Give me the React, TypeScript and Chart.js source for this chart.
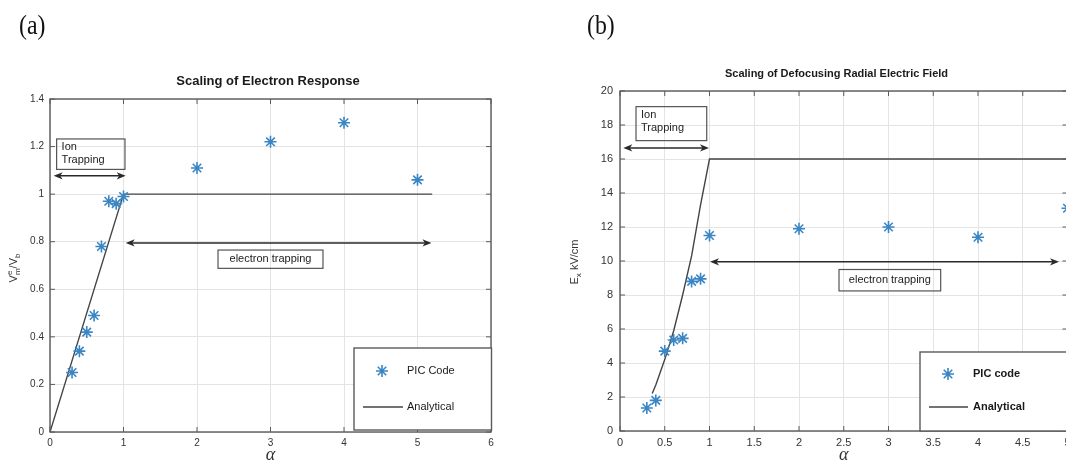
import React, { useEffect, useRef } from 'react';
import { Chart, registerables } from 'chart.js';
Chart.register(...registerables);

// ---------------- Panel (a) data ----------------
const alphaA = [0.3, 0.4, 0.5, 0.6, 0.7, 0.8, 0.9, 1, 2, 3, 4, 5];
const picCodeA = [0.25, 0.34, 0.42, 0.49, 0.78, 0.97, 0.96, 0.99, 1.11, 1.22, 1.3, 1.06];
const analyticalAlphaA = [0, 1, 5.2];
const analyticalA = [0, 1, 1];
const legendLabelsA = ['PIC Code', 'Analytical'];
const titleA = 'Scaling of Electron Response';

// ---------------- Panel (b) data ----------------
const alphaB = [0.3, 0.4, 0.5, 0.6, 0.7, 0.8, 0.9, 1, 2, 3, 4, 5];
const picCodeB = [1.35, 1.8, 4.7, 5.35, 5.45, 8.8, 8.95, 11.5, 11.9, 12.0, 11.4, 13.1];
const analyticalAlphaB = [0.36, 0.4, 0.5, 0.6, 0.7, 0.8, 0.9, 1, 5];
const analyticalB = [2.2, 2.7, 4.2, 5.9, 8.0, 10.3, 13.3, 16, 16];
const legendLabelsB = ['PIC code', 'Analytical'];
const titleB = 'Scaling of Defocusing Radial Electric Field';

const SANS = "'Liberation Sans', Arial, Helvetica, sans-serif";
const SERIF = "'Liberation Serif', 'Times New Roman', serif";
const STAR_COLOR = '#3a86c4';
const LINE_COLOR = '#444444';
const FRAME_COLOR = '#5a5a5a';
const ARROW_COLOR = '#2a2a2a';

type Part = { text: string; size: number; shift?: number; advance?: boolean };

type Spec = {
  left: number; width: number; height: number;
  yAxisWidth: number; xAxisHeight: number; padTop: number; padRight: number;
  xMin: number; xMax: number; xStep: number; yMin: number; yMax: number; yStep: number;
  tickSize: number; yTickPad: number;
  alpha: number[]; pic: number[]; anAlpha: number[]; an: number[]; labels: string[];
  title: { text: string; x: number; y: number; size: number };
  yLabel: { x: number; y: number; parts: Part[] };
  xLabel: { x: number; y: number; text: string };
  legend: { x: number; y: number; w: number; h: number; bold: boolean; starX: number; row1: number; row2: number; lineX1: number; lineX2: number; textX: number };
  arrows: { x1: number; x2: number; y: number }[];
  boxes: { x1: number; x2: number; y1: number; y2: number; lines: string[]; align: 'left' | 'center' }[];
};

function drawStar(ctx: CanvasRenderingContext2D, x: number, y: number, r: number) {
  ctx.beginPath();
  ctx.moveTo(x - r, y); ctx.lineTo(x + r, y);
  ctx.moveTo(x, y - r); ctx.lineTo(x, y + r);
  const d = r * Math.SQRT1_2;
  ctx.moveTo(x - d, y - d); ctx.lineTo(x + d, y + d);
  ctx.moveTo(x - d, y + d); ctx.lineTo(x + d, y - d);
  ctx.stroke();
}

function drawHead(ctx: CanvasRenderingContext2D, x: number, y: number, dir: number) {
  const L = 9, W = 3.6, back = 2.5;
  ctx.beginPath();
  ctx.moveTo(x, y);
  ctx.lineTo(x - dir * L, y - W);
  ctx.lineTo(x - dir * (L - back), y);
  ctx.lineTo(x - dir * L, y + W);
  ctx.closePath();
  ctx.fill();
}

const tickFmt = (v: any) => String(Math.round(Number(v) * 1000) / 1000);

function makeDecor(spec: Spec) {
  return {
    id: 'decor',
    afterDatasetsDraw(chart: any) {
      const ctx: CanvasRenderingContext2D = chart.ctx;
      const { left, right, top, bottom } = chart.chartArea;
      const xs = chart.scales.x, ys = chart.scales.y;
      ctx.save();
      ctx.strokeStyle = FRAME_COLOR;
      ctx.lineWidth = 1.4;
      ctx.strokeRect(left, top, right - left, bottom - top);
      ctx.lineWidth = 1;
      ctx.beginPath();
      xs.ticks.forEach((t: any) => {
        const p = xs.getPixelForValue(t.value);
        ctx.moveTo(p, bottom); ctx.lineTo(p, bottom - 5);
        ctx.moveTo(p, top); ctx.lineTo(p, top + 5);
      });
      ys.ticks.forEach((t: any) => {
        const p = ys.getPixelForValue(t.value);
        ctx.moveTo(left, p); ctx.lineTo(left + 5, p);
        ctx.moveTo(right, p); ctx.lineTo(right - 5, p);
      });
      ctx.stroke();
      ctx.restore();
    },
    afterDraw(chart: any) {
      const ctx: CanvasRenderingContext2D = chart.ctx;
      const xs = chart.scales.x, ys = chart.scales.y;
      ctx.save();
      // title
      ctx.fillStyle = '#1a1a1a';
      ctx.font = `bold ${spec.title.size}px ${SANS}`;
      ctx.textAlign = 'center';
      ctx.textBaseline = 'middle';
      ctx.fillText(spec.title.text, spec.title.x, spec.title.y);

      // x label
      ctx.font = `italic 18px ${SERIF}`;
      ctx.fillStyle = '#333';
      ctx.fillText(spec.xLabel.text, spec.xLabel.x, spec.xLabel.y);

      // y label (rotated, with sub/superscripts)
      ctx.save();
      ctx.translate(spec.yLabel.x, spec.yLabel.y);
      ctx.rotate(-Math.PI / 2);
      ctx.textAlign = 'left';
      ctx.textBaseline = 'alphabetic';
      let total = 0; let pend = 0;
      spec.yLabel.parts.forEach((p) => {
        ctx.font = `${p.size}px ${SANS}`;
        const w = ctx.measureText(p.text).width;
        if (p.advance === false) pend = w; else { total += Math.max(w, pend); pend = 0; }
      });
      let cur = -total / 2; pend = 0;
      spec.yLabel.parts.forEach((p) => {
        ctx.font = `${p.size}px ${SANS}`;
        const w = ctx.measureText(p.text).width;
        ctx.fillText(p.text, cur, 4 + (p.shift || 0));
        if (p.advance === false) pend = w; else { cur += Math.max(w, pend); pend = 0; }
      });
      ctx.restore();

      // arrows
      ctx.strokeStyle = ARROW_COLOR;
      ctx.fillStyle = ARROW_COLOR;
      ctx.lineWidth = 1.5;
      spec.arrows.forEach((a) => {
        const x1 = xs.getPixelForValue(a.x1), x2 = xs.getPixelForValue(a.x2), y = ys.getPixelForValue(a.y);
        ctx.beginPath();
        ctx.moveTo(x1 + 4, y); ctx.lineTo(x2 - 4, y);
        ctx.stroke();
        drawHead(ctx, x1, y, -1);
        drawHead(ctx, x2, y, 1);
      });

      // text boxes
      spec.boxes.forEach((b) => {
        const x1 = xs.getPixelForValue(b.x1), x2 = xs.getPixelForValue(b.x2);
        const y1 = ys.getPixelForValue(b.y1), y2 = ys.getPixelForValue(b.y2);
        ctx.strokeStyle = '#555';
        ctx.lineWidth = 1.2;
        ctx.strokeRect(x1, y1, x2 - x1, y2 - y1);
        ctx.fillStyle = '#222';
        ctx.font = `11px ${SANS}`;
        ctx.textBaseline = 'middle';
        if (b.align === 'center') {
          ctx.textAlign = 'center';
          ctx.fillText(b.lines[0], (x1 + x2) / 2, (y1 + y2) / 2);
        } else {
          ctx.textAlign = 'left';
          b.lines.forEach((l, i) => ctx.fillText(l, x1 + 5, y1 + 8 + i * 13.5));
        }
      });

      // legend
      const L = spec.legend;
      ctx.fillStyle = '#fff';
      ctx.fillRect(L.x, L.y, L.w, L.h);
      ctx.strokeStyle = FRAME_COLOR;
      ctx.lineWidth = 1.4;
      ctx.strokeRect(L.x, L.y, L.w, L.h);
      const ds = chart.data.datasets;
      ctx.strokeStyle = ds[0].borderColor;
      ctx.lineWidth = 1.6;
      drawStar(ctx, L.starX, L.row1, 6);
      ctx.strokeStyle = ds[1].borderColor;
      ctx.lineWidth = 1.4;
      ctx.beginPath(); ctx.moveTo(L.lineX1, L.row2); ctx.lineTo(L.lineX2, L.row2); ctx.stroke();
      ctx.fillStyle = '#1a1a1a';
      ctx.font = `${L.bold ? 'bold ' : ''}11px ${SANS}`;
      ctx.textAlign = 'left';
      ctx.textBaseline = 'middle';
      ctx.fillText(ds[0].label, L.textX, L.row1);
      ctx.fillText(ds[1].label, L.textX, L.row2);
      ctx.restore();
    },
  };
}

function makeConfig(spec: Spec): any {
  return {
    type: 'scatter',
    data: {
      datasets: [
        {
          label: spec.labels[0],
          data: spec.alpha.map((a, i) => ({ x: a, y: spec.pic[i] })),
          pointStyle: 'star',
          pointRadius: 6,
          pointHoverRadius: 6,
          borderColor: STAR_COLOR,
          backgroundColor: STAR_COLOR,
          pointBorderWidth: 1.6,
          borderWidth: 1.6,
          showLine: false,
          clip: false,
        },
        {
          label: spec.labels[1],
          data: spec.anAlpha.map((a, i) => ({ x: a, y: spec.an[i] })),
          showLine: true,
          borderColor: LINE_COLOR,
          backgroundColor: LINE_COLOR,
          borderWidth: 1.4,
          pointRadius: 0,
          tension: 0,
          fill: false,
        },
      ],
    },
    options: {
      responsive: false,
      animation: false,
      devicePixelRatio: 1,
      layout: { padding: { left: 0, top: spec.padTop, right: spec.padRight, bottom: 0 } },
      plugins: { legend: { display: false }, title: { display: false }, tooltip: { enabled: false } },
      scales: {
        x: {
          type: 'linear', min: spec.xMin, max: spec.xMax,
          afterFit: (s: any) => { s.height = spec.xAxisHeight; },
          border: { display: false },
          grid: { color: '#e4e4e4', lineWidth: 1, drawTicks: false },
          ticks: { stepSize: spec.xStep, autoSkip: false, maxRotation: 0, padding: 5, color: '#333', font: { family: SANS, size: spec.tickSize }, callback: tickFmt },
        },
        y: {
          type: 'linear', min: spec.yMin, max: spec.yMax,
          afterFit: (s: any) => { s.width = spec.yAxisWidth; },
          border: { display: false },
          grid: { color: '#e4e4e4', lineWidth: 1, drawTicks: false },
          ticks: { stepSize: spec.yStep, autoSkip: false, padding: spec.yTickPad, color: '#333', font: { family: SANS, size: spec.tickSize }, callback: tickFmt },
        },
      },
    },
    plugins: [makeDecor(spec)],
  };
}

const specA: Spec = {
  left: 0, width: 545, height: 469,
  yAxisWidth: 50, xAxisHeight: 37, padTop: 99, padRight: 54,
  xMin: 0, xMax: 6, xStep: 1, yMin: 0, yMax: 1.4, yStep: 0.2,
  tickSize: 10, yTickPad: 6,
  alpha: alphaA, pic: picCodeA, anAlpha: analyticalAlphaA, an: analyticalA, labels: legendLabelsA,
  title: { text: titleA, x: 268, y: 81, size: 13 },
  yLabel: {
    x: 13, y: 268,
    parts: [
      { text: 'V', size: 11 },
      { text: 'e', size: 8, shift: -5, advance: false },
      { text: 'm', size: 8, shift: 3 },
      { text: '/V', size: 11 },
      { text: 'b', size: 8, shift: 3 },
    ],
  },
  xLabel: { x: 270.5, y: 455, text: '\u03b1' },
  legend: { x: 354, y: 348, w: 137.5, h: 82, bold: false, starX: 382, row1: 371, row2: 407, lineX1: 363, lineX2: 403, textX: 407 },
  arrows: [
    { x1: 0.05, x2: 1.03, y: 1.077 },
    { x1: 1.03, x2: 5.19, y: 0.795 },
  ],
  boxes: [
    { x1: 0.09, x2: 1.02, y1: 1.232, y2: 1.104, lines: ['Ion', 'Trapping'], align: 'left' },
    { x1: 2.286, x2: 3.714, y1: 0.765, y2: 0.688, lines: ['electron trapping'], align: 'center' },
  ],
};

const specB: Spec = {
  left: 560, width: 530, height: 469,
  yAxisWidth: 60, xAxisHeight: 38, padTop: 91, padRight: 22.5,
  xMin: 0, xMax: 5, xStep: 0.5, yMin: 0, yMax: 20, yStep: 2,
  tickSize: 11, yTickPad: 7,
  alpha: alphaB, pic: picCodeB, anAlpha: analyticalAlphaB, an: analyticalB, labels: legendLabelsB,
  title: { text: titleB, x: 276.5, y: 74, size: 11 },
  yLabel: {
    x: 14, y: 262,
    parts: [
      { text: 'E', size: 11 },
      { text: 'x', size: 8, shift: 3 },
      { text: ' kV/cm', size: 11 },
    ],
  },
  xLabel: { x: 283.75, y: 455, text: '\u03b1' },
  legend: { x: 360, y: 352, w: 170, h: 79, bold: true, starX: 388, row1: 374, row2: 407, lineX1: 369, lineX2: 408, textX: 413 },
  arrows: [
    { x1: 0.037, x2: 0.994, y: 16.65 },
    { x1: 1.006, x2: 4.905, y: 9.95 },
  ],
  boxes: [
    { x1: 0.179, x2: 0.969, y1: 19.08, y2: 17.08, lines: ['Ion', 'Trapping'], align: 'left' },
    { x1: 2.447, x2: 3.583, y1: 9.5, y2: 8.24, lines: ['electron trapping'], align: 'center' },
  ],
};

function Panel({ spec }: { spec: Spec }) {
  const ref = useRef<HTMLCanvasElement>(null);
  useEffect(() => {
    const chart = new Chart(ref.current as HTMLCanvasElement, makeConfig(spec));
    return () => chart.destroy();
  }, [spec]);
  return (
    <canvas
      ref={ref}
      width={spec.width}
      height={spec.height}
      style={{ position: 'absolute', left: spec.left, top: 0, width: spec.width, height: spec.height }}
    />
  );
}

const panelLabel: React.CSSProperties = {
  position: 'absolute',
  top: 11,
  fontFamily: SERIF,
  fontSize: 28,
  lineHeight: 1,
  color: '#111',
  transform: 'scaleX(0.85)',
  transformOrigin: 'left top',
  whiteSpace: 'nowrap',
};

export default function App() {
  return (
    <div style={{ position: 'fixed', left: 0, top: 0, width: 1066, height: 469, overflow: 'hidden', background: '#fff' }}>
      <Panel spec={specA} />
      <Panel spec={specB} />
      <div style={{ ...panelLabel, left: 19 }}>(a)</div>
      <div style={{ ...panelLabel, left: 587 }}>(b)</div>
    </div>
  );
}
